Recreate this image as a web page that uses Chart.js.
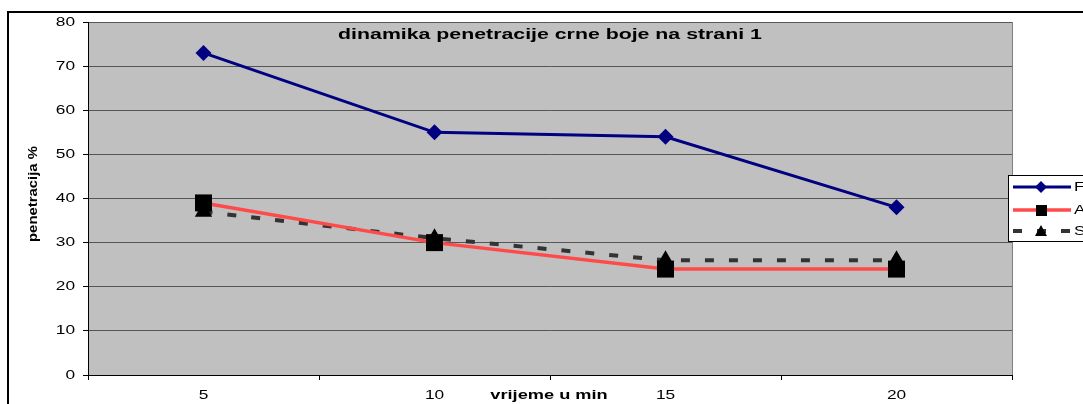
<!DOCTYPE html>
<html>
<head>
<meta charset="utf-8">
<script src="https://cdn.jsdelivr.net/npm/chart.js@4/dist/chart.umd.min.js"></script>
<style>
  html, body { margin: 0; padding: 0; background: #fff; }
  #wrap { width: 1083px; height: 404px; position: relative; }
</style>
</head>
<body>
<div id="wrap"><canvas id="penChart"></canvas></div>
<script>
const MINUTES = ['5', '10', '15', '20'];
const SERIES_F = [73, 55, 54, 38];
const SERIES_A = [39, 30, 24, 24];
const SERIES_S = [37, 31, 26, 26];
const Y_TICKS = [0, 10, 20, 30, 40, 50, 60, 70, 80];

const TITLE = 'dinamika penetracije crne boje na strani 1';
const X_TITLE = 'vrijeme u min';
const Y_TITLE = 'penetracija %';

const FONT = 'Arial, "Liberation Sans", sans-serif';
const STRETCH = 1.33; // the original image is stretched sideways

// draws text squeezed/stretched horizontally around its anchor
function wideText(ctx, text, x, y, align, font, sx) {
    ctx.save();
    ctx.font = font;
    ctx.textBaseline = 'middle';
    ctx.textAlign = align;
    ctx.translate(x, y);
    ctx.scale(sx, 1);
    ctx.fillText(text, 0, 0);
    ctx.restore();
}

// plot background, outer frame and the free-floating texts (Excel style)
const decorPlugin = {
    id: 'decor',
    beforeDraw(chart) {
        const ctx = chart.ctx;
        const a = chart.chartArea;
        ctx.save();
        ctx.fillStyle = '#c0c0c0';
        ctx.fillRect(a.left, a.top, a.right - a.left, a.bottom - a.top);
        ctx.strokeStyle = '#808080';
        ctx.lineWidth = 1;
        ctx.beginPath();
        ctx.moveTo(a.right + 0.5, a.top);
        ctx.lineTo(a.right + 0.5, a.bottom);
        ctx.stroke();
        // outer chart border
        ctx.strokeStyle = '#000';
        ctx.lineWidth = 2;
        ctx.strokeRect(8, 12, 1100, 420);
        ctx.restore();
    },
    afterDraw(chart) {
        const ctx = chart.ctx;
        const xs = chart.scales.x;
        const ys = chart.scales.y;
        ctx.save();
        ctx.fillStyle = '#000';

        // tick labels, placed with the library's scales
        Y_TICKS.forEach(v => {
            wideText(ctx, String(v), 75, ys.getPixelForValue(v), 'right', '13px ' + FONT, STRETCH);
        });
        MINUTES.forEach((m, i) => {
            wideText(ctx, m, xs.getPixelForValue(i), 395, 'center', '13px ' + FONT, STRETCH);
        });

        wideText(ctx, TITLE, 550, 35, 'center', 'bold 15px ' + FONT, 1.42);
        wideText(ctx, X_TITLE, 549, 395, 'center', 'bold 13px ' + FONT, 1.4);

        ctx.save();
        ctx.translate(34, 194);
        ctx.rotate(-Math.PI / 2);
        wideText(ctx, Y_TITLE, 0, 0, 'center', 'bold 12px ' + FONT, 1.24);
        ctx.restore();
        ctx.restore();

        // legend box (cut off at the right edge like the original)
        ctx.save();
        const lx = 1008, ly = 175;
        ctx.fillStyle = '#fff';
        ctx.fillRect(lx, ly, 120, 66);
        ctx.strokeStyle = '#000';
        ctx.lineWidth = 1;
        ctx.strokeRect(lx + 0.5, ly + 0.5, 120, 66);
        const rows = [187, 210, 231];
        chart.data.datasets.forEach((ds, i) => {
            const y = rows[i];
            ctx.strokeStyle = ds.borderColor;
            ctx.lineWidth = ds.borderWidth;
            ctx.setLineDash(ds.borderDash || []);
            ctx.beginPath();
            ctx.moveTo(1013, y);
            ctx.lineTo(1071, y);
            ctx.stroke();
            ctx.setLineDash([]);
            ctx.fillStyle = ds.pointBackgroundColor;
            ctx.beginPath();
            if (ds.pointStyle === 'rectRot') {
                ctx.moveTo(1041, y - 6); ctx.lineTo(1047, y);
                ctx.lineTo(1041, y + 6); ctx.lineTo(1035, y);
            } else if (ds.pointStyle === 'rect') {
                ctx.rect(1041 - 5, y - 5, 11, 11);
            } else {
                ctx.moveTo(1041, y - 6); ctx.lineTo(1047, y + 5); ctx.lineTo(1035, y + 5);
            }
            ctx.closePath();
            ctx.fill();
            ctx.fillStyle = '#000';
            wideText(ctx, ds.label, 1074, y, 'left', '13px ' + FONT, STRETCH);
        });
        ctx.restore();
    }
};

const ctx = document.getElementById('penChart').getContext('2d');
new Chart(ctx, {
    type: 'line',
    data: {
        labels: MINUTES,
        datasets: [
            {
                label: 'F',
                data: SERIES_F,
                borderColor: '#000080',
                borderWidth: 3,
                pointStyle: 'rectRot',
                pointRadius: 8,
                pointBackgroundColor: '#000080',
                pointBorderColor: '#000080',
                pointBorderWidth: 0,
                tension: 0
            },
            {
                label: 'A',
                data: SERIES_A,
                borderColor: '#ff4a4a',
                borderWidth: 3.5,
                pointStyle: 'rect',
                pointRadius: 12,
                pointBackgroundColor: '#000',
                pointBorderColor: '#000',
                pointBorderWidth: 0,
                tension: 0
            },
            {
                label: 'S',
                data: SERIES_S,
                borderColor: '#333333',
                borderWidth: 4,
                borderDash: [9, 15],
                pointStyle: 'triangle',
                pointRadius: 10,
                pointBackgroundColor: '#000',
                pointBorderColor: '#000',
                pointBorderWidth: 0,
                tension: 0
            }
        ]
    },
    options: {
        responsive: true,
        maintainAspectRatio: false,
        animation: false,
        layout: { padding: { left: 0, top: 22, right: 71, bottom: 0 } },
        plugins: {
            legend: { display: false },
            title: { display: false },
            tooltip: { enabled: false }
        },
        scales: {
            x: {
                offset: true,
                grid: {
                    offset: true,
                    drawOnChartArea: false,
                    drawTicks: true,
                    tickLength: 5,
                    tickColor: '#000'
                },
                border: { color: '#000', width: 1 },
                ticks: { display: false },
                afterFit(scale) { scale.height = 29; }
            },
            y: {
                min: 0,
                max: 80,
                afterBuildTicks(scale) { scale.ticks = Y_TICKS.map(v => ({ value: v })); },
                grid: {
                    color: '#555555',
                    lineWidth: 1,
                    tickLength: 5,
                    tickColor: '#000'
                },
                border: { color: '#000', width: 1 },
                ticks: { display: false },
                afterFit(scale) { scale.width = 88; }
            }
        }
    },
    plugins: [decorPlugin]
});
</script>
</body>
</html>
